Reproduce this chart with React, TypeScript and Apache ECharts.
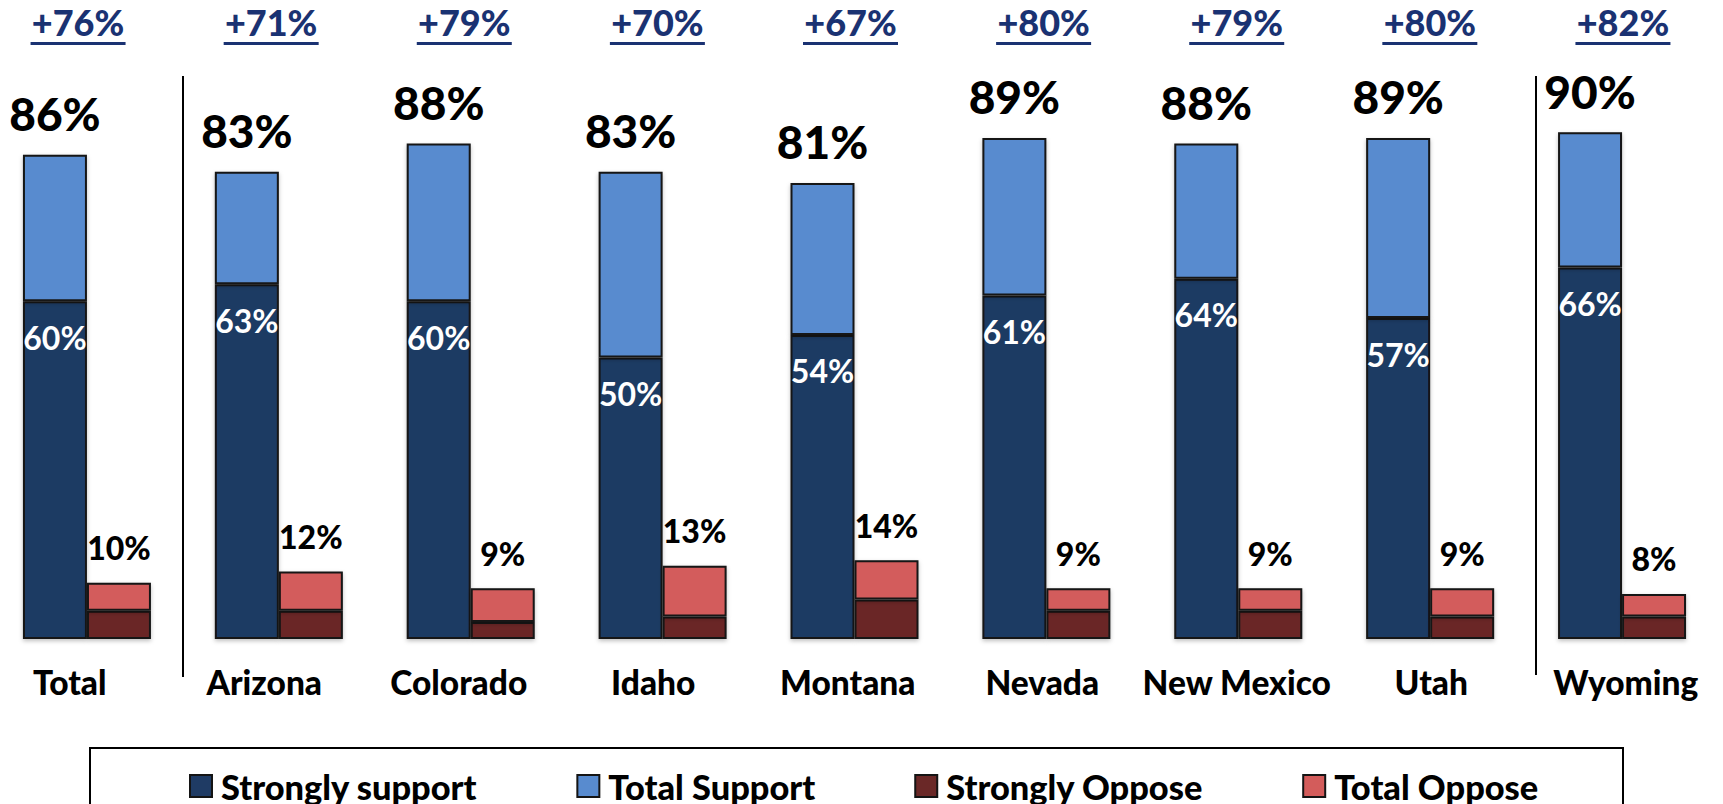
import React, { useEffect, useRef } from "react";
import * as echarts from "echarts";

const categories = ["Total", "Arizona", "Colorado", "Idaho", "Montana", "Nevada", "New Mexico", "Utah", "Wyoming"];
const stronglySupport = [60, 63, 60, 50, 54, 61, 64, 57, 66];
const totalSupport = [86, 83, 88, 83, 81, 89, 88, 89, 90];
const stronglyOppose = [5, 5, 3, 4, 7, 5, 5, 4, 4];
const totalOppose = [10, 12, 9, 13, 14, 9, 9, 9, 8];
const netSupport = [76, 71, 79, 70, 67, 80, 79, 80, 82];

const FONT = "Lato, 'DejaVu Sans', sans-serif";
const W = 900;
const C_SS = "#1F3B64";
const C_TS = "#588BCF";
const C_SO = "#6A2827";
const C_TO = "#D35C5B";
const NAVY = "#1A3272";
// the chart canvas starts OFF px left of the page so that the outer bands may begin off-screen
const OFF = 40;

export default function App() {
  const ref = useRef<HTMLDivElement>(null);
  useEffect(() => {
    if (!ref.current) return;
    const chart = echarts.init(ref.current, null, { renderer: "svg" });
    const border = { borderColor: "#141414", borderWidth: 2, shadowColor: "rgba(0,0,0,0.25)", shadowBlur: 4, shadowOffsetY: 2 };
    chart.setOption({
      animation: false,
      backgroundColor: "#ffffff",
      textStyle: { fontFamily: FONT },
      grid: [
        { left: OFF - 9, width: 1727, top: 76, height: 563 },
        { left: OFF - 18.5, width: 1738, top: 50, height: 1 },
        { left: OFF - 27.5, width: 1755, top: 639, height: 1 },
      ],
      xAxis: [
        { type: "category", gridIndex: 0, data: categories, show: false },
        {
          type: "category",
          gridIndex: 1,
          position: "top",
          data: categories,
          axisLine: { show: false },
          axisTick: { show: false },
          axisLabel: {
            margin: 5,
            interval: 0,
            formatter: (_v: string, i: number) => `{a|+${netSupport[i]}%}\n{u| }`,
            rich: {
              a: { fontFamily: FONT, fontSize: 36, fontWeight: W, color: NAVY, lineHeight: 40, align: "center" },
              u: { width: 95, height: 3, lineHeight: 3, backgroundColor: NAVY, fontSize: 1, align: "center" },
            },
          },
        },
        {
          type: "category",
          gridIndex: 2,
          position: "bottom",
          data: categories,
          axisLine: { show: false },
          axisTick: { show: false },
          axisLabel: { margin: 25, interval: 0, fontFamily: FONT, fontSize: 33.5, fontWeight: W, color: "#000" },
        },
      ],
      yAxis: [
        { type: "value", gridIndex: 0, min: 0, max: 100, show: false },
        { type: "value", gridIndex: 1, show: false },
        { type: "value", gridIndex: 2, show: false },
      ],
      legend: {
        left: OFF + 189,
        top: 769,
        padding: 0,
        itemWidth: 22,
        itemHeight: 22,
        itemGap: 99,
        icon: "rect",
        data: ["Strongly support", "Total Support", "Strongly Oppose", "Total Oppose"],
        textStyle: { fontFamily: FONT, fontSize: 34.4, lineHeight: 28, fontWeight: W, color: "#000", padding: [0, 0, 0, 4] },
      },
      graphic: [
        { type: "line", shape: { x1: OFF + 183, y1: 76, x2: OFF + 183, y2: 677 }, style: { stroke: "#000", lineWidth: 2 } },
        { type: "line", shape: { x1: OFF + 1536, y1: 76, x2: OFF + 1536, y2: 675 }, style: { stroke: "#000", lineWidth: 2 } },
        { type: "rect", shape: { x: OFF + 90, y: 748, width: 1533, height: 80 }, style: { fill: "none", stroke: "#000", lineWidth: 2 } },
      ],
      series: [
        {
          name: "Strongly support",
          type: "bar",
          stack: "support",
          barWidth: 64,
          barGap: "0%",
          data: stronglySupport,
          itemStyle: { color: C_SS, ...border },
          label: {
            show: true,
            position: "insideTop",
            distance: 20,
            color: "#fff",
            fontFamily: FONT,
            fontSize: 32,
            fontWeight: "bold",
            formatter: "{c}%",
          },
        },
        {
          name: "Total Support",
          type: "bar",
          stack: "support",
          barWidth: 64,
          barGap: "0%",
          data: totalSupport.map((t, i) => t - stronglySupport[i]),
          itemStyle: { color: C_TS, ...border },
          label: {
            show: true,
            position: "top",
            distance: 18,
            color: "#000",
            fontFamily: FONT,
            fontSize: 46,
            fontWeight: W,
            formatter: (p: any) => `${totalSupport[p.dataIndex]}%`,
          },
        },
        {
          name: "Strongly Oppose",
          type: "bar",
          stack: "oppose",
          barWidth: 64,
          barGap: "0%",
          data: stronglyOppose,
          itemStyle: { color: C_SO, ...border },
        },
        {
          name: "Total Oppose",
          type: "bar",
          stack: "oppose",
          barWidth: 64,
          barGap: "0%",
          data: totalOppose.map((t, i) => t - stronglyOppose[i]),
          itemStyle: { color: C_TO, ...border },
          label: {
            show: true,
            position: "top",
            distance: 19,
            color: "#000",
            fontFamily: FONT,
            fontSize: 32,
            fontWeight: W,
            formatter: (p: any) => `${totalOppose[p.dataIndex]}%`,
          },
        },
      ],
    });
    return () => chart.dispose();
  }, []);
  return <div ref={ref} style={{ position: "fixed", left: -OFF, top: 0, width: 1723 + OFF, height: 804 }} />;
}
